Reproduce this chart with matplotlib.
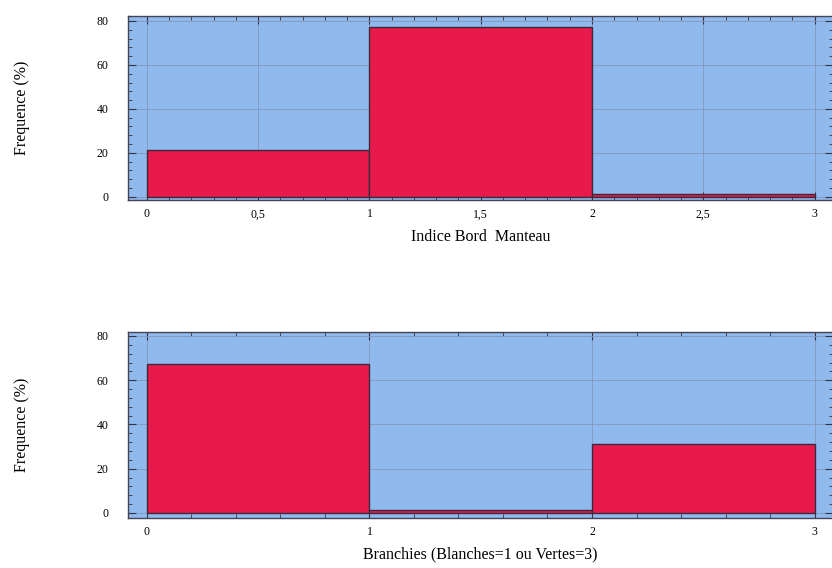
import numpy as np
import matplotlib
matplotlib.use("Agg")
from matplotlib import pyplot as plt
from matplotlib.ticker import MultipleLocator, FuncFormatter

# histogram bins (left edges) and frequencies in %
bins = [0, 1, 2, 3]
bord_manteau = [21.3, 77.2, 1.5]
branchies = [67.5, 1.2, 31.3]

bg = "#90b9ee"
bar_color = "#e8194b"
edge = "#3a2a3a"
grid_color = "#8398bb"

plt.rcParams['font.family'] = ['Liberation Serif', 'DejaVu Serif']

fig = plt.figure(figsize=(8.32, 5.68), dpi=100)
ax1 = fig.add_axes([0.1538, 0.648, 0.848, 0.324])
ax2 = fig.add_axes([0.1538, 0.088, 0.848, 0.3275])

comma = FuncFormatter(lambda v, p: ("%g" % v).replace(".", ","))


def draw(ax, freqs, xlabel, xmajor, xminor, ylim):
    ax.set_facecolor(bg)
    ax.bar(bins[:-1], freqs, width=np.diff(bins), align="edge",
           color=bar_color, edgecolor=edge, linewidth=1.0, zorder=3)
    ax.set_xlim(-0.085, 3.085)
    ax.set_ylim(*ylim)
    ax.xaxis.set_major_locator(MultipleLocator(xmajor))
    ax.xaxis.set_minor_locator(MultipleLocator(xminor))
    ax.yaxis.set_major_locator(MultipleLocator(20))
    ax.yaxis.set_minor_locator(MultipleLocator(4))
    ax.xaxis.set_major_formatter(comma)
    ax.grid(True, which="major", color=grid_color, linewidth=0.6, zorder=1)
    ax.set_axisbelow(True)
    ax.tick_params(which="both", direction="in", top=True, right=True,
                   color="#333344", labelsize=8.5)
    ax.tick_params(which="major", length=6, width=0.8)
    ax.tick_params(which="minor", length=3, width=0.6)
    ax.tick_params(axis="x", pad=6)
    ax.tick_params(axis="y", pad=14)
    for s in ax.spines.values():
        s.set_color("#444455")
        s.set_linewidth(1.0)
    ax.set_xlabel(xlabel, fontsize=11.5, labelpad=6)
    ax.set_ylabel("Frequence (%)", fontsize=11.5, labelpad=48)


draw(ax1, bord_manteau, "Indice Bord  Manteau", 0.5, 0.1, (-1.4, 82.3))
draw(ax2, branchies, "Branchies (Blanches=1 ou Vertes=3)", 1, 0.2, (-2.3, 81.8))

fig.savefig("out.png", dpi=100)
